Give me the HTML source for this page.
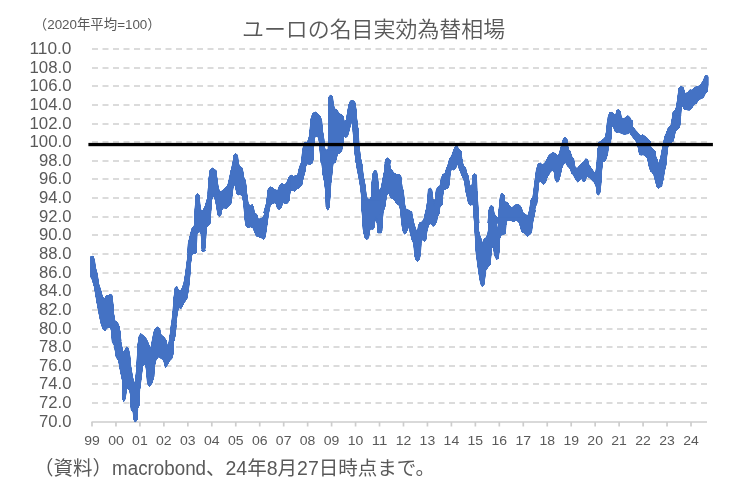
<!DOCTYPE html>
<html lang="ja"><head><meta charset="utf-8"><title>ユーロの名目実効為替相場</title>
<style>html,body{margin:0;padding:0;background:#fff;}body{width:732px;height:496px;overflow:hidden;}svg{display:block;}text{font-family:"Liberation Sans","Noto Sans CJK JP",sans-serif;fill:#595959;}.jp{font-family:"Liberation Sans","Noto Sans CJK JP",sans-serif;}</style></head><body>
<svg width="732" height="496" viewBox="0 0 732 496">
<rect width="732" height="496" fill="#fff"/>
<g stroke="#cfcfcf" stroke-width="1.6" stroke-dasharray="6 4.5" fill="none">
<line x1="92.0" y1="402.95" x2="707.0" y2="402.95"/>
<line x1="92.0" y1="383.95" x2="707.0" y2="383.95"/>
<line x1="92.0" y1="365.95" x2="707.0" y2="365.95"/>
<line x1="92.0" y1="346.95" x2="707.0" y2="346.95"/>
<line x1="92.0" y1="328.95" x2="707.0" y2="328.95"/>
<line x1="92.0" y1="309.95" x2="707.0" y2="309.95"/>
<line x1="92.0" y1="290.95" x2="707.0" y2="290.95"/>
<line x1="92.0" y1="272.95" x2="707.0" y2="272.95"/>
<line x1="92.0" y1="253.95" x2="707.0" y2="253.95"/>
<line x1="92.0" y1="234.95" x2="707.0" y2="234.95"/>
<line x1="92.0" y1="216.95" x2="707.0" y2="216.95"/>
<line x1="92.0" y1="197.95" x2="707.0" y2="197.95"/>
<line x1="92.0" y1="178.95" x2="707.0" y2="178.95"/>
<line x1="92.0" y1="160.95" x2="707.0" y2="160.95"/>
<line x1="92.0" y1="141.95" x2="707.0" y2="141.95"/>
<line x1="92.0" y1="123.95" x2="707.0" y2="123.95"/>
<line x1="92.0" y1="104.95" x2="707.0" y2="104.95"/>
<line x1="92.0" y1="85.95" x2="707.0" y2="85.95"/>
<line x1="92.0" y1="67.95" x2="707.0" y2="67.95"/>
<line x1="92.0" y1="48.95" x2="707.0" y2="48.95"/>
</g>
<g stroke="#cdcdcd" stroke-width="1.7" fill="none">
<line x1="91.5" y1="422.00" x2="707.0" y2="422.00"/>
<line x1="92.00" y1="422.00" x2="92.00" y2="426.50"/>
<line x1="115.96" y1="422.00" x2="115.96" y2="426.50"/>
<line x1="139.92" y1="422.00" x2="139.92" y2="426.50"/>
<line x1="163.88" y1="422.00" x2="163.88" y2="426.50"/>
<line x1="187.84" y1="422.00" x2="187.84" y2="426.50"/>
<line x1="211.80" y1="422.00" x2="211.80" y2="426.50"/>
<line x1="235.76" y1="422.00" x2="235.76" y2="426.50"/>
<line x1="259.72" y1="422.00" x2="259.72" y2="426.50"/>
<line x1="283.68" y1="422.00" x2="283.68" y2="426.50"/>
<line x1="307.64" y1="422.00" x2="307.64" y2="426.50"/>
<line x1="331.60" y1="422.00" x2="331.60" y2="426.50"/>
<line x1="355.56" y1="422.00" x2="355.56" y2="426.50"/>
<line x1="379.52" y1="422.00" x2="379.52" y2="426.50"/>
<line x1="403.48" y1="422.00" x2="403.48" y2="426.50"/>
<line x1="427.44" y1="422.00" x2="427.44" y2="426.50"/>
<line x1="451.40" y1="422.00" x2="451.40" y2="426.50"/>
<line x1="475.36" y1="422.00" x2="475.36" y2="426.50"/>
<line x1="499.32" y1="422.00" x2="499.32" y2="426.50"/>
<line x1="523.28" y1="422.00" x2="523.28" y2="426.50"/>
<line x1="547.24" y1="422.00" x2="547.24" y2="426.50"/>
<line x1="571.20" y1="422.00" x2="571.20" y2="426.50"/>
<line x1="595.16" y1="422.00" x2="595.16" y2="426.50"/>
<line x1="619.12" y1="422.00" x2="619.12" y2="426.50"/>
<line x1="643.08" y1="422.00" x2="643.08" y2="426.50"/>
<line x1="667.04" y1="422.00" x2="667.04" y2="426.50"/>
<line x1="691.00" y1="422.00" x2="691.00" y2="426.50"/>
</g>
<defs><filter id="rnd" x="0" y="0" width="732" height="496" filterUnits="userSpaceOnUse" color-interpolation-filters="sRGB"><feGaussianBlur stdDeviation="0.6"/><feComponentTransfer><feFuncA type="linear" slope="2.5" intercept="-0.6"/></feComponentTransfer></filter></defs>
<g fill="#4472c4" stroke="#4472c4" stroke-width="0.8" stroke-linejoin="round" filter="url(#rnd)">
<polygon points="90.5,256.7 93.0,256.0 94.7,260.0 95.4,266.7 97.6,275.1 98.7,283.5 100.9,290.2 102.6,296.9 104.7,298.5 106.4,295.2 108.4,296.0 110.4,293.8 112.1,295.5 113.1,303.6 113.8,313.6 115.1,321.1 117.6,322.3 119.3,327.0 120.1,333.0 120.8,341.2 114.8,341.2 114.8,333.0 113.5,325.3 111.8,324.5 110.1,327.3 107.1,328.0 105.1,330.7 103.1,329.0 100.9,323.6 99.2,315.3 96.7,301.9 94.2,286.8 91.7,278.5 90.5,276.8"/>
<polygon points="188.4,250.0 187.1,260.0 185.4,273.4 183.7,283.5 181.2,290.2 178.7,290.2 176.7,286.0 175.0,287.7 173.7,298.5 172.9,310.3 171.7,322.0 170.7,333.0 169.7,341.2 174.0,341.2 175.4,333.0 176.2,323.6 177.4,313.6 178.7,307.7 181.2,308.6 183.7,303.6 187.1,298.5 188.8,288.5 190.1,275.1 190.8,263.4 192.1,254.2 195.5,253.3 196.3,250.0"/>
<polygon points="154.5,333.0 155.3,328.7 157.3,327.0 159.5,328.7 160.3,333.0"/>
<polygon points="201.3,250.0 203.0,251.7 205.2,250.8 205.8,250.0"/>
<polygon points="101.7,325.0 103.4,329.2 105.1,330.4 106.8,327.0 110.1,325.8 111.4,331.7 112.1,341.7 114.3,345.9 116.0,356.8 118.5,361.0 120.1,370.2 122.2,380.2 122.2,398.6 123.8,401.7 125.5,398.6 126.5,390.3 127.5,387.8 129.5,390.6 130.4,395.3 130.7,405.8 131.2,410.5 133.0,412.0 133.4,418.2 134.4,421.2 135.5,421.9 136.9,420.6 137.6,418.2 137.9,408.2 139.2,405.8 139.7,395.3 139.9,389.6 140.4,386.8 141.1,380.2 142.7,366.8 143.9,364.3 145.6,365.2 146.6,373.5 147.3,383.6 149.4,386.6 151.9,383.6 154.0,376.9 154.5,366.8 156.1,360.1 158.6,356.8 161.2,358.5 163.7,361.0 165.3,367.7 167.3,365.2 169.5,361.0 172.0,358.5 173.4,353.5 173.7,341.7 175.4,335.0 176.2,325.0 171.2,325.0 170.4,331.7 168.7,343.4 167.8,347.6 166.2,340.1 163.7,336.7 161.2,335.0 159.5,328.3 157.0,327.0 154.5,329.2 152.8,336.7 151.6,343.4 150.3,350.1 149.4,345.9 147.8,341.7 145.6,337.6 142.7,335.0 140.6,333.4 138.9,336.7 137.7,345.1 137.2,355.1 136.5,368.5 135.2,381.9 134.4,383.6 132.7,376.9 131.0,366.8 129.9,355.1 128.5,348.4 126.5,346.8 124.8,350.1 123.8,353.5 122.7,350.1 121.0,341.7 120.5,333.4 118.5,325.0"/>
<polygon points="187.6,253.0 188.1,243.6 190.1,235.3 191.8,228.6 194.3,225.2 194.8,210.2 195.9,195.1 197.6,193.4 199.3,195.1 200.5,209.3 202.6,211.0 205.1,206.0 207.7,196.8 208.8,180.0 210.2,170.0 216.0,170.0 216.9,176.7 218.5,188.4 220.2,191.8 222.7,190.4 225.2,187.6 227.7,185.1 229.4,178.4 231.1,170.0 242.8,170.0 243.6,176.7 245.6,180.9 246.7,191.8 248.3,203.5 250.3,206.0 252.3,204.3 253.7,207.7 254.5,212.7 257.0,214.4 258.4,219.4 260.4,218.5 262.4,217.7 264.6,214.4 267.1,203.5 267.9,190.1 270.1,187.1 272.4,187.6 274.6,189.7 277.1,190.9 279.6,190.1 280.5,184.7 282.5,183.7 284.6,185.9 287.2,182.6 289.2,177.0 292.0,175.0 292.0,185.1 290.2,191.8 289.2,201.0 287.2,203.5 284.6,203.1 283.0,202.6 281.3,207.7 279.1,209.8 277.1,207.7 275.8,202.6 272.9,203.5 270.4,205.1 268.7,213.5 267.1,225.2 265.4,236.9 263.7,239.5 261.2,237.8 258.7,236.9 256.2,236.1 254.5,231.9 252.8,227.7 250.3,226.9 247.8,227.7 245.6,225.2 244.5,216.9 243.6,203.5 242.3,196.8 240.3,193.4 239.0,195.1 236.9,194.3 235.6,188.4 234.4,183.4 233.3,186.7 232.3,195.1 231.1,203.5 228.6,206.8 226.1,208.8 223.6,207.7 221.9,210.2 221.0,214.9 219.4,216.5 217.7,215.2 216.5,206.8 215.2,200.1 213.2,195.1 211.8,200.1 211.0,211.8 210.2,223.6 208.2,226.1 206.5,226.9 206.0,236.9 205.1,248.7 203.5,251.5 201.8,248.7 201.0,234.4 199.3,231.1 197.1,234.4 196.8,243.6 196.4,253.0"/>
<polygon points="208.1,193.6 208.7,180.2 210.1,170.2 212.6,167.7 214.8,170.2 216.4,176.9 217.6,186.9 218.5,193.6"/>
<polygon points="229.3,180.2 231.5,168.5 233.2,160.1 233.8,155.1 235.5,153.4 237.7,155.1 238.5,163.5 240.2,166.8 242.2,167.7 243.2,176.9 245.2,180.2 246.1,188.6 240.2,195.3 236.9,190.3 235.5,183.6 234.4,181.9 232.7,186.9 230.2,186.9"/>
<polygon points="263.6,213.0 266.2,203.6 267.3,195.3 268.3,188.6 270.3,186.9 272.8,188.2 275.4,189.9 277.9,190.3 279.5,185.2 281.7,183.6 283.7,184.9 286.2,183.6 288.7,177.7 291.3,175.2 293.8,176.5 296.3,175.5 298.5,173.8 299.6,166.8 301.3,163.5 303.0,155.1 303.5,146.7 304.6,142.6 307.2,142.6 309.2,136.7 310.2,130.0 312.0,130.0 312.0,163.5 309.7,164.3 307.2,162.6 305.8,165.1 305.1,171.8 303.0,178.5 301.8,185.2 299.6,187.7 297.1,188.6 294.6,191.1 292.1,188.6 290.4,191.1 288.7,196.9 287.1,202.8 284.6,203.6 282.9,200.3 281.2,207.0 278.7,208.7 276.7,205.3 275.4,202.0 272.8,203.3 270.3,203.6 269.0,208.7 267.8,213.0"/>
<polygon points="301.4,163.0 302.1,153.6 303.4,145.3 305.4,141.9 307.6,143.3 309.2,138.6 310.1,126.9 310.9,118.5 312.6,113.5 315.1,111.8 317.6,113.5 320.1,116.0 321.8,120.2 322.6,130.2 324.0,138.6 324.6,146.9 325.8,151.3 328.0,148.6 328.5,130.2 328.7,113.5 328.8,96.7 330.5,95.1 332.7,96.7 333.5,105.1 335.2,109.3 337.2,109.8 338.9,113.5 341.0,114.3 343.2,116.0 344.4,121.8 346.1,120.2 347.2,113.5 348.6,105.1 350.3,100.9 352.3,100.1 354.9,101.8 356.1,108.5 356.9,118.5 357.8,126.9 358.6,130.2 359.0,143.6 360.0,153.6 361.1,163.0 356.1,163.0 354.9,152.0 353.9,143.6 352.8,130.2 351.9,120.2 350.6,125.2 349.4,130.2 347.7,136.1 345.6,137.7 343.9,135.2 343.2,143.6 341.9,150.3 339.9,153.6 337.7,152.8 336.5,158.7 335.2,163.0 321.0,163.0 320.1,153.6 319.3,143.6 318.5,137.7 316.4,136.1 314.8,137.7 313.8,146.9 313.1,155.3 312.6,163.0"/>
<polygon points="385.1,163.0 385.7,159.5 387.9,157.8 390.1,160.0 390.8,163.0"/>
<polygon points="290.0,175.1 292.5,176.8 295.0,175.9 297.5,175.1 299.2,168.4 300.9,163.4 303.4,160.9 303.7,150.0 313.4,150.0 313.1,160.0 311.8,163.4 309.7,164.7 307.6,163.7 305.9,165.9 304.7,171.8 303.1,178.5 301.7,185.1 299.2,187.7 296.7,189.3 294.7,191.5 292.5,190.2 290.0,190.2"/>
<polygon points="321.0,150.0 321.5,160.0 322.6,173.4 324.3,181.8 325.5,191.8 326.0,206.9 327.7,210.3 329.3,207.7 330.2,196.9 331.0,183.5 332.2,173.4 333.2,163.4 334.4,160.9 336.0,159.2 337.2,154.2 339.4,153.0 341.0,152.0 341.9,150.0"/>
<polygon points="354.4,150.0 355.6,158.4 356.9,168.4 358.6,176.8 360.3,186.8 361.6,198.5 362.3,208.6 362.8,220.3 363.3,233.0 369.2,233.0 369.8,230.2 371.0,228.5 372.7,229.8 374.4,226.8 374.5,223.6 375.9,216.9 377.0,223.6 377.9,233.0 381.7,233.0 382.1,222.0 382.9,211.9 384.6,208.6 385.7,201.9 387.1,194.4 389.1,193.2 391.3,193.5 392.4,198.5 394.6,200.2 397.1,204.4 398.8,203.9 400.5,203.6 401.3,213.6 401.8,223.6 402.5,230.3 404.5,233.7 406.2,232.7 407.8,228.5 409.5,226.8 410.3,233.0 412.0,233.0 412.0,211.9 408.8,210.3 406.3,209.4 404.6,205.2 403.8,193.5 402.1,186.8 401.3,178.5 399.6,175.1 397.1,174.8 394.6,173.4 392.4,170.9 390.4,168.4 389.6,160.0 387.4,158.4 385.7,160.0 384.6,171.8 382.9,180.1 381.7,188.5 380.4,193.5 378.7,188.5 377.9,178.5 376.7,170.9 374.5,170.4 372.8,173.4 371.7,183.5 371.2,196.9 369.5,199.4 367.3,198.5 366.2,193.5 365.0,183.5 363.3,175.1 362.3,165.1 360.3,156.7 359.5,150.0"/>
<polygon points="361.4,200.0 361.8,210.0 362.6,221.8 363.8,233.5 365.1,238.5 366.8,239.8 368.8,237.7 369.8,230.1 371.0,228.5 372.6,229.8 374.3,226.8 375.1,216.7 376.8,215.9 377.7,223.4 378.5,230.1 380.2,232.6 381.8,231.0 382.7,220.1 383.2,210.0 384.9,206.7 385.5,200.0"/>
<polygon points="394.4,200.0 396.1,202.5 398.2,204.2 399.9,203.3 400.6,210.0 401.6,220.1 402.8,230.1 404.4,234.3 406.1,232.6 407.8,228.5 409.5,226.8 410.3,233.5 412.0,240.2 413.6,243.5 414.5,255.2 415.6,259.4 417.3,261.6 419.5,259.4 420.7,253.6 421.2,243.5 422.3,239.3 424.5,241.8 426.2,239.3 427.0,231.8 428.7,225.1 431.2,223.4 432.9,226.4 435.1,225.1 435.7,216.7 437.4,215.9 439.1,214.2 440.1,206.7 442.1,205.0 442.9,200.0 427.9,200.0 427.0,205.0 426.2,210.0 424.5,216.7 422.8,222.6 420.3,223.1 418.3,225.1 417.3,233.5 416.2,230.1 414.5,225.1 412.8,218.4 411.6,213.4 409.5,210.9 406.9,210.0 405.3,208.4 404.4,200.0"/>
<polygon points="380.0,190.2 381.3,186.9 382.5,180.2 384.2,171.8 385.4,160.1 387.5,158.4 389.2,160.9 389.7,168.5 391.7,170.1 393.4,173.5 395.9,174.3 398.4,174.3 400.9,175.5 401.8,186.9 403.1,190.2 403.8,198.6 404.8,208.6 406.8,210.0 409.3,210.3 411.0,212.8 412.6,217.0 413.5,223.0 401.4,223.0 400.9,213.6 399.7,206.9 398.4,204.4 396.7,203.6 395.1,201.1 392.6,198.6 390.4,197.7 389.2,193.6 387.5,193.2 385.9,195.2 384.7,203.6 383.3,210.3 382.0,213.6 380.0,214.5"/>
<polygon points="419.3,223.0 421.8,222.0 424.4,218.7 425.2,213.6 426.9,206.9 427.7,196.9 428.2,189.4 429.9,187.7 431.9,189.4 432.7,196.9 433.6,204.4 434.4,206.9 435.2,198.6 436.1,190.2 437.7,186.9 439.9,186.0 441.1,178.5 442.8,174.3 444.9,173.5 446.1,169.3 447.8,165.1 449.5,158.4 451.6,155.9 453.6,150.0 455.3,146.4 457.3,145.9 458.7,149.2 461.2,150.9 462.0,158.4 463.3,165.1 465.7,167.6 466.7,172.6 468.4,176.0 469.5,183.5 471.2,188.5 472.1,183.5 472.6,175.1 474.6,173.5 476.7,175.1 477.1,190.2 477.9,201.9 478.4,212.0 479.1,223.0 474.6,223.0 474.1,212.0 472.9,204.4 470.4,205.3 468.4,203.6 467.0,196.9 465.4,190.2 464.5,181.8 462.0,176.0 460.3,171.8 458.3,166.8 457.3,161.8 456.2,167.6 453.6,170.1 451.6,168.5 450.3,173.5 449.5,183.5 448.6,187.7 446.1,188.9 443.6,190.2 442.8,196.9 441.6,205.3 439.4,206.9 438.6,213.6 437.2,218.7 436.6,223.0"/>
<polygon points="487.9,223.0 488.8,213.6 489.6,206.9 491.3,205.3 493.5,206.9 494.1,213.6 496.3,216.2 498.0,218.7 498.8,213.6 499.7,203.6 500.5,195.2 502.0,193.2 502.0,223.0"/>
<polygon points="473.4,210.0 474.3,223.4 475.1,236.8 475.9,251.8 477.6,265.2 479.3,276.9 480.5,283.6 482.1,286.7 484.3,284.5 485.1,276.9 486.0,270.3 488.2,266.9 490.2,265.2 491.0,256.9 491.8,248.5 493.2,246.0 494.4,255.2 496.5,259.4 498.5,258.5 499.4,250.2 499.9,238.5 501.0,235.1 503.2,234.8 505.6,233.4 506.1,225.1 507.2,220.0 510.3,220.4 513.6,221.7 516.1,220.4 518.6,221.7 520.3,226.7 521.6,231.8 524.5,233.4 527.0,236.4 529.5,235.1 531.7,232.6 532.3,226.7 533.3,220.0 534.5,215.0 535.4,210.0 529.7,210.0 527.8,216.0 525.3,214.4 522.8,212.7 522.1,210.0 498.5,210.0 498.5,220.0 498.2,230.1 497.4,230.1 496.9,225.1 496.5,220.0 495.5,216.2 493.8,213.7 493.2,210.0 488.3,210.0 488.3,220.0 488.2,230.1 487.7,233.9 485.8,238.1 484.0,239.1 483.0,241.5 482.5,245.8 482.1,245.8 481.5,239.6 480.1,235.8 478.6,230.1 478.3,220.0 478.1,210.0"/>
<polygon points="488.8,216.9 489.8,208.6 491.5,205.6 493.2,207.7 493.8,213.6 494.4,216.9"/>
<polygon points="498.5,216.9 499.4,205.2 500.5,195.2 502.7,193.5 504.4,195.5 504.9,201.9 507.7,202.2 509.4,206.1 511.9,207.7 514.4,205.2 516.9,204.4 519.5,204.9 521.6,207.7 522.8,212.8 525.3,214.4 527.8,216.1 529.5,210.3 530.7,200.2 532.8,196.9 534.5,183.5 536.2,170.1 537.9,164.2 539.5,163.1 541.2,165.9 543.7,165.1 546.2,163.4 547.9,158.4 550.1,154.7 552.4,155.9 554.6,153.3 556.8,154.7 557.9,156.7 559.6,153.3 561.3,150.0 569.7,150.0 572.0,156.7 572.0,174.3 570.5,170.1 568.8,166.7 567.2,165.9 565.8,161.7 563.8,164.2 561.8,165.9 560.5,173.4 558.8,180.1 557.1,182.1 555.4,180.1 554.6,173.4 552.9,170.1 550.4,171.8 548.7,175.1 546.7,176.8 545.7,181.8 543.7,184.3 541.7,182.6 540.4,178.5 538.7,183.5 537.9,193.5 537.0,203.6 535.4,206.9 533.7,216.9"/>
<polygon points="540.0,162.7 542.0,164.4 544.2,163.8 546.4,160.2 548.4,156.0 550.9,153.5 553.1,152.6 555.4,153.5 556.7,157.7 558.4,156.0 560.1,150.1 561.8,143.4 563.4,138.7 565.4,137.1 567.1,139.2 568.1,146.8 569.3,155.1 571.8,156.8 573.8,158.8 575.1,166.9 577.2,168.5 579.8,164.9 581.8,163.2 583.8,161.8 585.5,158.8 587.7,159.3 588.9,164.4 591.0,167.7 593.2,171.0 595.6,173.2 596.9,161.8 597.7,148.5 600.3,142.6 602.8,141.4 604.9,138.4 606.6,130.0 607.3,120.0 632.1,120.0 632.9,126.7 635.4,130.0 637.9,132.6 640.4,135.9 642.9,134.7 645.4,136.7 647.9,138.4 649.6,140.9 650.5,146.8 653.0,150.1 655.1,151.8 655.8,158.5 657.2,163.5 659.2,166.0 660.5,158.5 662.0,153.5 662.0,186.1 660.5,186.9 658.5,188.3 656.8,184.4 655.1,176.9 653.0,171.9 650.5,171.0 648.8,165.2 647.1,157.7 644.6,156.0 642.1,153.5 640.1,155.1 638.7,150.1 637.4,143.4 636.2,141.8 633.7,138.4 631.7,135.9 629.5,132.6 627.0,134.2 624.5,132.6 622.0,133.1 618.7,131.7 616.2,132.1 614.5,128.4 612.8,124.2 611.6,126.7 611.1,136.7 610.3,142.6 608.6,146.8 607.8,153.5 606.1,159.3 604.4,161.8 602.8,161.0 601.9,170.2 601.1,183.6 600.3,192.0 598.6,195.3 596.9,193.6 596.1,186.9 594.4,182.8 591.9,180.3 589.4,177.7 586.9,176.1 585.2,181.1 583.2,181.9 581.8,178.6 579.8,180.3 577.7,182.3 575.1,178.6 572.6,173.6 571.0,169.4 568.5,166.9 566.8,164.4 564.8,161.8 563.4,164.4 561.8,168.5 560.4,175.2 558.7,181.1 556.7,182.3 555.1,178.6 554.2,170.2 552.6,168.5 550.4,169.4 548.4,175.2 546.7,178.6 545.0,183.6 543.0,184.4 540.8,181.9 540.0,179.4"/>
<polygon points="598.0,143.0 600.5,141.2 603.9,138.7 606.4,136.2 607.2,126.9 608.0,116.9 609.7,112.2 611.7,112.2 613.9,113.9 615.6,115.2 616.7,110.2 618.9,109.4 620.6,111.9 621.4,117.7 623.9,118.6 626.1,116.9 628.1,115.6 630.1,117.7 631.5,123.6 633.1,128.6 635.7,131.1 638.2,134.5 640.7,136.2 642.4,135.0 644.9,136.7 647.4,138.7 649.0,141.2 649.9,143.0 638.2,143.0 635.7,138.7 633.1,135.3 630.6,130.3 629.0,131.1 626.8,133.6 624.8,134.5 621.4,133.6 618.9,132.0 616.4,132.8 614.7,131.1 613.1,126.1 611.7,126.9 611.4,135.3 610.6,143.0"/>
<polygon points="664.1,143.0 664.9,137.0 666.6,132.0 668.3,127.8 670.8,126.1 672.0,118.6 673.0,111.9 675.0,110.2 676.3,106.9 677.5,98.5 678.7,88.5 680.8,85.9 683.4,87.6 685.0,93.5 687.5,92.6 689.7,89.8 692.1,90.1 694.2,87.6 696.7,86.4 699.3,85.9 701.4,83.4 703.4,80.1 705.1,75.9 706.8,75.1 708.1,76.7 708.1,85.1 707.6,91.0 705.1,94.3 703.4,97.7 700.9,98.8 698.4,100.2 696.4,103.5 694.2,104.4 692.1,107.7 689.7,110.2 686.7,109.9 684.2,109.4 682.5,105.2 681.3,108.5 680.8,116.9 680.0,125.3 678.3,129.0 675.8,129.5 674.2,133.6 672.5,140.3 671.6,143.0"/>
<polygon points="635.1,131.7 637.6,137.6 641.0,135.1 644.3,136.8 647.7,139.3 650.2,140.9 651.0,147.6 653.2,149.3 655.2,151.0 656.0,156.8 657.7,160.2 658.5,165.2 659.4,161.9 661.0,155.2 662.2,148.5 663.6,141.8 664.9,135.9 666.9,133.4 668.6,127.6 671.1,125.9 672.8,121.7 673.6,115.0 680.6,115.0 680.3,120.0 679.5,126.7 677.8,129.2 675.6,130.9 674.4,136.8 673.3,141.4 671.1,141.8 668.9,143.5 667.7,148.5 666.9,156.8 666.1,165.2 664.4,171.9 663.6,178.6 662.2,183.6 660.2,187.0 658.5,188.3 656.9,187.0 655.5,181.9 653.8,175.3 651.8,171.9 651.0,171.9 649.3,166.9 648.5,159.4 646.0,156.8 644.3,154.3 641.8,155.2 639.3,154.3 638.5,148.5 636.8,141.8 635.1,140.1"/>
</g>
<rect x="88.4" y="142.9" width="624.5" height="3.3" fill="#000"/>
<g font-size="16" text-anchor="end">
<text x="71.5" y="426.75" textLength="32.4" lengthAdjust="spacingAndGlyphs">70.0</text>
<text x="71.5" y="407.75" textLength="32.4" lengthAdjust="spacingAndGlyphs">72.0</text>
<text x="71.5" y="388.75" textLength="32.4" lengthAdjust="spacingAndGlyphs">74.0</text>
<text x="71.5" y="370.75" textLength="32.4" lengthAdjust="spacingAndGlyphs">76.0</text>
<text x="71.5" y="351.75" textLength="32.4" lengthAdjust="spacingAndGlyphs">78.0</text>
<text x="71.5" y="333.75" textLength="32.4" lengthAdjust="spacingAndGlyphs">80.0</text>
<text x="71.5" y="314.75" textLength="32.4" lengthAdjust="spacingAndGlyphs">82.0</text>
<text x="71.5" y="295.75" textLength="32.4" lengthAdjust="spacingAndGlyphs">84.0</text>
<text x="71.5" y="277.75" textLength="32.4" lengthAdjust="spacingAndGlyphs">86.0</text>
<text x="71.5" y="258.75" textLength="32.4" lengthAdjust="spacingAndGlyphs">88.0</text>
<text x="71.5" y="239.75" textLength="32.4" lengthAdjust="spacingAndGlyphs">90.0</text>
<text x="71.5" y="221.75" textLength="32.4" lengthAdjust="spacingAndGlyphs">92.0</text>
<text x="71.5" y="202.75" textLength="32.4" lengthAdjust="spacingAndGlyphs">94.0</text>
<text x="71.5" y="183.75" textLength="32.4" lengthAdjust="spacingAndGlyphs">96.0</text>
<text x="71.5" y="165.75" textLength="32.4" lengthAdjust="spacingAndGlyphs">98.0</text>
<text x="71.5" y="146.75" textLength="42.0" lengthAdjust="spacingAndGlyphs">100.0</text>
<text x="71.5" y="128.75" textLength="42.0" lengthAdjust="spacingAndGlyphs">102.0</text>
<text x="71.5" y="109.75" textLength="42.0" lengthAdjust="spacingAndGlyphs">104.0</text>
<text x="71.5" y="90.75" textLength="42.0" lengthAdjust="spacingAndGlyphs">106.0</text>
<text x="71.5" y="72.75" textLength="42.0" lengthAdjust="spacingAndGlyphs">108.0</text>
<text x="71.5" y="53.75" textLength="42.0" lengthAdjust="spacingAndGlyphs">110.0</text>
</g>
<g font-size="12.6" text-anchor="middle">
<text x="92.00" y="445.0" textLength="15.6" lengthAdjust="spacingAndGlyphs">99</text>
<text x="115.96" y="445.0" textLength="15.6" lengthAdjust="spacingAndGlyphs">00</text>
<text x="139.92" y="445.0" textLength="15.6" lengthAdjust="spacingAndGlyphs">01</text>
<text x="163.88" y="445.0" textLength="15.6" lengthAdjust="spacingAndGlyphs">02</text>
<text x="187.84" y="445.0" textLength="15.6" lengthAdjust="spacingAndGlyphs">03</text>
<text x="211.80" y="445.0" textLength="15.6" lengthAdjust="spacingAndGlyphs">04</text>
<text x="235.76" y="445.0" textLength="15.6" lengthAdjust="spacingAndGlyphs">05</text>
<text x="259.72" y="445.0" textLength="15.6" lengthAdjust="spacingAndGlyphs">06</text>
<text x="283.68" y="445.0" textLength="15.6" lengthAdjust="spacingAndGlyphs">07</text>
<text x="307.64" y="445.0" textLength="15.6" lengthAdjust="spacingAndGlyphs">08</text>
<text x="331.60" y="445.0" textLength="15.6" lengthAdjust="spacingAndGlyphs">09</text>
<text x="355.56" y="445.0" textLength="15.6" lengthAdjust="spacingAndGlyphs">10</text>
<text x="379.52" y="445.0" textLength="15.6" lengthAdjust="spacingAndGlyphs">11</text>
<text x="403.48" y="445.0" textLength="15.6" lengthAdjust="spacingAndGlyphs">12</text>
<text x="427.44" y="445.0" textLength="15.6" lengthAdjust="spacingAndGlyphs">13</text>
<text x="451.40" y="445.0" textLength="15.6" lengthAdjust="spacingAndGlyphs">14</text>
<text x="475.36" y="445.0" textLength="15.6" lengthAdjust="spacingAndGlyphs">15</text>
<text x="499.32" y="445.0" textLength="15.6" lengthAdjust="spacingAndGlyphs">16</text>
<text x="523.28" y="445.0" textLength="15.6" lengthAdjust="spacingAndGlyphs">17</text>
<text x="547.24" y="445.0" textLength="15.6" lengthAdjust="spacingAndGlyphs">18</text>
<text x="571.20" y="445.0" textLength="15.6" lengthAdjust="spacingAndGlyphs">19</text>
<text x="595.16" y="445.0" textLength="15.6" lengthAdjust="spacingAndGlyphs">20</text>
<text x="619.12" y="445.0" textLength="15.6" lengthAdjust="spacingAndGlyphs">21</text>
<text x="643.08" y="445.0" textLength="15.6" lengthAdjust="spacingAndGlyphs">22</text>
<text x="667.04" y="445.0" textLength="15.6" lengthAdjust="spacingAndGlyphs">23</text>
<text x="691.00" y="445.0" textLength="15.6" lengthAdjust="spacingAndGlyphs">24</text>
</g>
<text class="jp" x="242" y="36.6" font-size="21.93" font-weight="350">ユーロの名目実効為替相場</text>
<text class="jp" x="33.8" y="28.9" font-size="13.4">（2020年平均=100）</text>
<text class="jp" x="34.1" y="475.0" font-size="19.5">（資料）<tspan textLength="93.9" lengthAdjust="spacingAndGlyphs">macrobond</tspan>、24年8月27日時点まで。</text>
</svg></body></html>
